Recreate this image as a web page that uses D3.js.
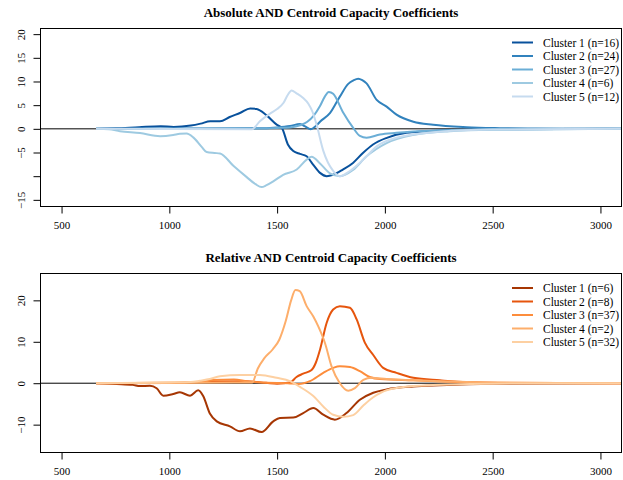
<!DOCTYPE html>
<html>
<head>
<meta charset="utf-8">
<script src="https://cdn.jsdelivr.net/npm/d3@7"></script>
<style>
  body { margin: 0; background: #fff; }
  svg { display: block; font-family: "Liberation Serif", "Times New Roman", serif; }
  .title { font-weight: bold; font-size: 13px; }
  .legend text { font-size: 11.5px; }
</style>
</head>
<body>
<svg width="623" height="480"></svg>
<script>
// ---- data (wavelength-ish x, coefficient y) ----
var xTicks = [500, 1000, 1500, 2000, 2500, 3000];
var xLabels = ["500", "1000", "1500", "2000", "2500", "3000"];

var absYTicks = [-15, -10, -5, 0, 5, 10, 15, 20];
var absYLabels = ["\u221215", "", "\u22125", "0", "5", "10", "15", "20"];
var relYTicks = [-10, 0, 10, 20];
var relYLabels = ["\u221210", "0", "10", "20"];

var absNames = ["Cluster 1 (n=16)", "Cluster 2 (n=24)", "Cluster 3 (n=27)", "Cluster 4 (n=6)", "Cluster 5 (n=12)"];
var relNames = ["Cluster 1 (n=6)", "Cluster 2 (n=8)", "Cluster 3 (n=37)", "Cluster 4 (n=2)", "Cluster 5 (n=32)"];

var abs1 = [[660,0],[750,0.1],[860,0.35],[960,0.55],[1020,0.4],[1100,0.7],[1145,1.1],[1190,1.6],[1235,1.6],[1280,2.5],[1330,3.4],[1375,4.3],[1405,4.2],[1450,2.9],[1498,0.9],[1522,0.2],[1550,-3.3],[1575,-4.7],[1606,-5.3],[1637,-5.8],[1666,-7.5],[1699,-9.3],[1730,-10],[1760,-9.7],[1805,-8.6],[1852,-7.2],[1898,-5.1],[1945,-3.3],[2009,-1.9],[2100,-0.85],[2255,-0.35],[2500,-0.1],[3100,0]];
var abs2 = [[660,0],[1000,0.05],[1400,0.1],[1500,0.3],[1560,0.6],[1606,1.0],[1630,0.5],[1655,-0.1],[1680,0.6],[1699,1.5],[1745,3.3],[1791,6.8],[1830,9.5],[1853,10.2],[1876,10.6],[1895,10.3],[1915,9.6],[1962,6.1],[2008,4.7],[2054,3.0],[2132,1.5],[2224,0.85],[2379,0.35],[2534,0.15],[2700,0.05],[3100,0]];
var abs3 = [[660,0],[1000,0],[1400,0.05],[1500,0.2],[1560,0.3],[1610,0.8],[1640,1.5],[1670,2.8],[1699,4.8],[1720,6.7],[1740,7.8],[1760,7.4],[1807,3.4],[1853,0.2],[1884,-1.5],[1915,-1.9],[1977,-1.2],[2054,-0.85],[2255,-0.35],[2500,-0.1],[3100,0]];
var abs4 = [[660,0],[720,-0.1],[771,-0.5],[864,-0.9],[957,-1.55],[1018,-1.3],[1049,-1.05],[1080,-1.0],[1111,-1.8],[1150,-3.8],[1173,-4.9],[1210,-5.1],[1235,-5.2],[1297,-7.8],[1359,-10.2],[1400,-11.7],[1428,-12.3],[1451,-11.9],[1482,-11.1],[1528,-9.7],[1591,-8.6],[1637,-6.5],[1660,-5.9],[1699,-7.3],[1745,-9.4],[1791,-10],[1852,-8.7],[1915,-5.8],[2008,-3.0],[2130,-1.3],[2300,-0.5],[2500,-0.2],[3100,0]];
var abs5 = [[660,0],[1000,-0.05],[1383,-0.1],[1420,1.6],[1467,3.2],[1500,4.2],[1530,5.5],[1550,7.2],[1567,8.1],[1590,7.5],[1621,6.5],[1645,5.3],[1665,3.5],[1683,0.9],[1714,-4.6],[1760,-8.9],[1791,-10],[1838,-8.9],[1900,-6.5],[1962,-3.7],[2054,-1.9],[2255,-0.6],[2500,-0.15],[3100,0]];

var rel1 = [[660,0],[756,-0.2],[830,-0.4],[864,-0.7],[910,-0.6],[941,-1.2],[972,-3.0],[1018,-2.6],[1049,-2.2],[1096,-3.0],[1134,-1.7],[1157,-3.1],[1188,-7.3],[1220,-9.2],[1281,-10.4],[1328,-11.6],[1374,-10.9],[1428,-11.8],[1482,-9.2],[1513,-8.4],[1575,-8.3],[1621,-7.2],[1668,-6.0],[1714,-7.6],[1768,-8.8],[1822,-7.2],[1884,-4.0],[1946,-2.3],[2008,-1.5],[2132,-0.8],[2255,-0.5],[2500,-0.15],[3100,0]];
var rel2 = [[660,0],[1000,0.05],[1200,0.4],[1350,0.5],[1450,0.1],[1500,-0.1],[1560,0.15],[1590,1.5],[1621,2.3],[1660,3.2],[1680,5.0],[1699,8.1],[1730,14.6],[1760,17.8],[1791,18.6],[1838,18.2],[1869,15.4],[1907,9.8],[1946,6.8],[1992,3.7],[2054,2.5],[2132,1.3],[2255,0.7],[2379,0.25],[2600,0.05],[3100,0]];
var rel3 = [[660,0],[1000,0.1],[1150,0.3],[1200,0.8],[1300,0.9],[1360,0.5],[1450,0.1],[1550,0],[1600,-0.2],[1652,0.5],[1714,2.5],[1760,3.7],[1791,4.1],[1838,3.9],[1884,2.9],[1930,1.5],[1977,1.0],[2132,0.7],[2300,0.35],[2500,0.1],[3100,0]];
var rel4 = [[660,0],[1000,0.1],[1300,0.15],[1385,0.2],[1410,3.5],[1440,6.0],[1480,8.2],[1510,10.5],[1540,15],[1565,20],[1585,22.5],[1605,22.2],[1637,18.6],[1668,16.1],[1691,13.7],[1722,9.7],[1753,4.0],[1791,0],[1830,-1.8],[1861,-1.2],[1900,0.8],[1938,1.3],[2008,1.0],[2132,0.7],[2255,0.5],[2500,0.15],[3100,0]];
var rel5 = [[660,0],[1000,0.2],[1100,0.3],[1142,0.6],[1188,1.0],[1235,1.7],[1328,2.0],[1420,2.0],[1498,1.3],[1560,0.5],[1606,-0.9],[1640,-2.0],[1668,-3.1],[1714,-5.6],[1760,-7.6],[1807,-8.1],[1853,-7.7],[1900,-5.4],[1946,-3.4],[2008,-1.7],[2132,-0.7],[2300,-0.3],[2500,-0.1],[3100,0]];

var blues = ["#08519c", "#3182bd", "#6baed6", "#9ecae1", "#c6dbef"];
var oranges = ["#a63603", "#e6550d", "#fd8d3c", "#fdae6b", "#fdd0a2"];

var svg = d3.select("svg");

var x = d3.scaleLinear().domain([400, 3100]).range([40, 622]);

function panel(o) {
    var y = d3.scaleLinear().domain(o.yDomain).range([o.bottom, o.top]);
    var g = svg.append("g");

    // title
    g.append("text")
        .attr("class", "title")
        .attr("x", (40 + 622) / 2)
        .attr("y", o.titleY)
        .attr("text-anchor", "middle")
        .text(o.title);

    g.append("clipPath").attr("id", o.id)
      .append("rect")
        .attr("x", 40).attr("y", o.top)
        .attr("width", 582).attr("height", o.bottom - o.top);

    var plot = g.append("g").attr("clip-path", "url(#" + o.id + ")");

    // zero line
    plot.append("line")
        .attr("x1", 40).attr("x2", 622)
        .attr("y1", y(0)).attr("y2", y(0))
        .attr("stroke", "#000").attr("stroke-width", 1);

    var line = d3.line()
        .x(function(d) { return x(d[0]); })
        .y(function(d) { return y(d[1]); })
        .curve(d3.curveMonotoneX);

    plot.selectAll("path.series")
        .data(o.series)
      .enter().append("path")
        .attr("class", "series")
        .attr("fill", "none")
        .attr("stroke", function(d, i) { return o.colors[i]; })
        .attr("stroke-width", 2)
        .attr("stroke-linejoin", "round")
        .attr("d", line);

    // box
    g.append("rect")
        .attr("x", 40.5).attr("y", o.top + 0.5)
        .attr("width", 581).attr("height", o.bottom - o.top)
        .attr("fill", "none").attr("stroke", "#000").attr("stroke-width", 1);

    // axes
    var xa = g.append("g")
        .attr("transform", "translate(0," + (o.bottom + 0.5) + ")")
        .call(d3.axisBottom(x).tickValues(xTicks).tickSize(7).tickPadding(8)
            .tickFormat(function(d, i) { return xLabels[i]; }));
    xa.select(".domain").remove();

    var ya = g.append("g")
        .attr("transform", "translate(40.5,0)")
        .call(d3.axisLeft(y).tickValues(o.yTicks).tickSize(7)
            .tickFormat(function(d, i) { return o.yLabels[i]; }));
    ya.select(".domain").remove();
    ya.selectAll(".tick text")
        .attr("text-anchor", "middle")
        .attr("x", 0).attr("dy", 0)
        .attr("transform", "translate(-16,0) rotate(-90)");

    g.selectAll(".tick line").attr("stroke", "#000");
    g.selectAll(".tick text").attr("fill", "#000")
        .style("font-family", "'Liberation Serif', serif").style("font-size", "11px");

    // legend
    var lg = g.append("g").attr("class", "legend");
    o.names.forEach(function(n, i) {
        var ly = o.legendY + i * 13.5;
        lg.append("line")
            .attr("x1", 512).attr("x2", 533)
            .attr("y1", ly).attr("y2", ly)
            .attr("stroke", o.colors[i]).attr("stroke-width", 2);
        lg.append("text")
            .attr("x", 543).attr("y", ly + 4)
            .text(n);
    });
}

panel({
    id: "clipA",
    title: "Absolute AND Centroid Capacity Coefficients",
    titleY: 17,
    top: 28, bottom: 206,
    yDomain: [-16.3, 21.3],
    yTicks: absYTicks, yLabels: absYLabels,
    series: [abs1, abs2, abs3, abs4, abs5],
    names: absNames, colors: blues,
    legendY: 42.5
});

panel({
    id: "clipB",
    title: "Relative AND Centroid Capacity Coefficients",
    titleY: 262,
    top: 273, bottom: 452,
    yDomain: [-16.6, 26.6],
    yTicks: relYTicks, yLabels: relYLabels,
    series: [rel1, rel2, rel3, rel4, rel5],
    names: relNames, colors: oranges,
    legendY: 288
});
</script>
</body>
</html>
